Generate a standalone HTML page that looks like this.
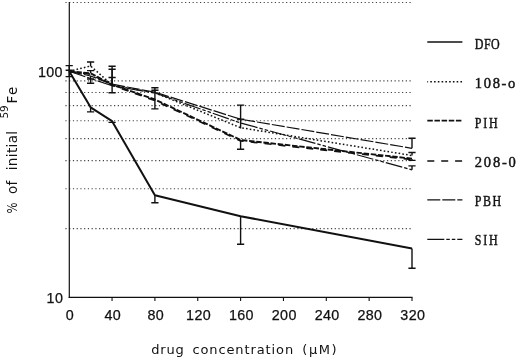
<!DOCTYPE html>
<html><head><meta charset="utf-8"><title>chart</title>
<style>
html,body{margin:0;padding:0;background:#fff;}
body{width:520px;height:358px;overflow:hidden;}
svg{display:block;}
.tick{font-family:"Liberation Sans",sans-serif;font-size:14.3px;letter-spacing:0.35px;fill:#111;stroke:#111;stroke-width:0.25px;}
.lab{font-family:"DejaVu Sans","Liberation Sans",sans-serif;font-size:13px;fill:#111;}
.leg{font-family:"Liberation Serif",serif;font-size:15px;fill:#111;stroke:#111;stroke-width:0.45px;}
</style></head><body>
<svg width="520" height="358" viewBox="0 0 520 358">
<rect width="520" height="358" fill="#fff"/>

<g stroke="#444" stroke-width="1.2" stroke-dasharray="1.2 2.54" fill="none">
<line x1="65.4" y1="2.50" x2="411.4" y2="2.50"/>
<line x1="65.4" y1="80.94" x2="411.4" y2="80.94"/>
<line x1="65.4" y1="92.50" x2="411.4" y2="92.50"/>
<line x1="65.4" y1="105.61" x2="411.4" y2="105.61"/>
<line x1="65.4" y1="120.74" x2="411.4" y2="120.74"/>
<line x1="65.4" y1="138.63" x2="411.4" y2="138.63"/>
<line x1="65.4" y1="160.53" x2="411.4" y2="160.53"/>
<line x1="65.4" y1="188.77" x2="411.4" y2="188.77"/>
<line x1="65.4" y1="228.57" x2="411.4" y2="228.57"/>
</g>
<g stroke="#111" stroke-width="1.2" fill="none">
<line x1="69.3" y1="2" x2="69.3" y2="297.9"/>
<line x1="68.7" y1="297.4" x2="412.55" y2="297.4" stroke-width="1.1"/>
<line x1="112.05" y1="297.4" x2="112.05" y2="301" stroke-width="1.1"/>
<line x1="154.90" y1="297.4" x2="154.90" y2="301" stroke-width="1.1"/>
<line x1="197.75" y1="297.4" x2="197.75" y2="301" stroke-width="1.1"/>
<line x1="240.60" y1="297.4" x2="240.60" y2="301" stroke-width="1.1"/>
<line x1="283.45" y1="297.4" x2="283.45" y2="301" stroke-width="1.1"/>
<line x1="326.30" y1="297.4" x2="326.30" y2="301" stroke-width="1.1"/>
<line x1="369.15" y1="297.4" x2="369.15" y2="301" stroke-width="1.1"/>
<line x1="412.00" y1="297.4" x2="412.00" y2="301" stroke-width="1.1"/>
</g>
<g class="tick" text-anchor="middle">
<text x="70.00" y="319.6">0</text>
<text x="112.85" y="319.6">40</text>
<text x="155.70" y="319.6">80</text>
<text x="198.55" y="319.6">120</text>
<text x="241.40" y="319.6">160</text>
<text x="284.25" y="319.6">200</text>
<text x="327.10" y="319.6">240</text>
<text x="369.95" y="319.6">280</text>
<text x="412.80" y="319.6">320</text>
</g>
<g class="tick" text-anchor="end"><text x="62.9" y="76.9">100</text><text x="63.2" y="302.6">10</text></g>
<g stroke="#111" fill="none" stroke-linejoin="round">
<polyline points="69.2,71.3 90.6,66.0 112.1,85.0 154.9,92.8 240.6,127.7 412.0,155.5" stroke-width="1.5" stroke-dasharray="1.6 2.17"/>
<polyline points="69.2,71.3 90.6,73.3 112.1,84.6 154.9,99.5 240.6,140.0 412.0,158.6" stroke-width="1.9" stroke-dasharray="5.5 1.7"/>
<polyline points="69.2,71.3 90.6,74.2 112.1,85.2 154.9,100.5 240.6,140.9 412.0,159.6" stroke-width="1.7" stroke-dasharray="7 7"/>
<polyline points="69.2,71.3 90.6,76.0 112.1,84.2 154.9,92.2 240.6,119.2 412.0,148.3" stroke-width="1.2" stroke-dasharray="13 2"/>
<polyline points="69.2,71.3 90.6,78.5 112.1,85.8 154.9,93.0 240.6,123.0 412.0,169.8" stroke-width="1.2" stroke-dasharray="17 2 3.5 2 3.5 2"/>
<polyline points="69.2,71.3 90.6,107.3 112.1,121.2 154.9,195.2 240.6,216.2 412.0,248.6" stroke-width="2"/>
</g>
<g stroke="#111" stroke-width="1.4" fill="none">
<path d="M69.2 71.3V65.6M65.6 65.6H72.8"/>
<path d="M69.2 71.3V76.6M65.6 76.6H72.8"/>
<path d="M69.2 71.3V70.2M65.6 70.2H72.8"/>
<path d="M90.6 66.5V62.0M87.0 62.0H94.2"/>
<path d="M90.6 73.0V70.6M87.0 70.6H94.2"/>
<path d="M90.6 76.0V79.0M87.0 79.0H94.2"/>
<path d="M90.6 78.5V83.2M87.0 83.2H94.2"/>
<path d="M90.6 107.3V111.9M87.0 111.9H94.2"/>
<path d="M112.1 84.0V66.2M108.5 66.2H115.7"/>
<path d="M112.1 84.0V69.3M108.5 69.3H115.7"/>
<path d="M112.1 84.0V77.5M108.5 77.5H115.7"/>
<path d="M112.1 85.0V92.7M108.5 92.7H115.7"/>
<path d="M112.1 121.2V122.4M108.5 122.4H115.7"/>
<path d="M154.9 93.0V87.8M151.3 87.8H158.5"/>
<path d="M154.9 93.0V90.3M151.3 90.3H158.5"/>
<path d="M154.9 93.0V108.9M151.3 108.9H158.5"/>
<path d="M154.9 195.2V202.7M151.3 202.7H158.5"/>
<path d="M240.6 128.5V105.1M237.0 105.1H244.2"/>
<path d="M240.6 119.2V119.2M237.0 119.2H244.2"/>
<path d="M240.6 140.0V149.2M237.0 149.2H244.2"/>
<path d="M240.6 216.2V244.2M237.0 244.2H244.2"/>
<path d="M412.0 148.2V138.2M408.4 138.2H415.6"/>
<path d="M412.0 155.5V152.5M408.4 152.5H415.6"/>
<path d="M412.0 159.0V160.4M408.4 160.4H415.6"/>
<path d="M412.0 169.8V165.9M408.4 165.9H415.6"/>
<path d="M412.0 248.6V268.3M408.4 268.3H415.6"/>
</g>
<g stroke="#111" fill="none">
<line x1="427.3" y1="42.0" x2="462.4" y2="42.0" stroke-width="1.5"/>
<line x1="427.3" y1="81.8" x2="462.4" y2="81.8" stroke-width="1.5" stroke-dasharray="1.6 2.17" stroke-dashoffset="0.8"/>
<line x1="427.3" y1="120.6" x2="462.4" y2="120.6" stroke-width="1.6" stroke-dasharray="5.5 1.65"/>
<line x1="427.3" y1="161.0" x2="462.4" y2="161.0" stroke-width="1.4" stroke-dasharray="7 6.9"/>
<line x1="427.3" y1="199.8" x2="462.4" y2="199.8" stroke-width="1.2" stroke-dasharray="13 2"/>
<line x1="427.3" y1="239.3" x2="462.4" y2="239.3" stroke-width="1.2" stroke-dasharray="17 2 3.5 2 3.5 2"/>
</g>
<g class="leg">
<text transform="translate(474.8,49.2) scale(0.8,1.03)" textLength="31.2" lengthAdjust="spacing">DFO</text>
<text transform="translate(474.8,88.4) scale(0.97,1.03)" textLength="41.8" lengthAdjust="spacing">108-o</text>
<text transform="translate(474.8,127.8) scale(0.8,1.03)" textLength="28.5" lengthAdjust="spacing">PIH</text>
<text transform="translate(474.8,166.5) scale(0.97,1.03)" textLength="42.3" lengthAdjust="spacing">208-0</text>
<text transform="translate(474.8,206.4) scale(0.8,1.03)" textLength="33.0" lengthAdjust="spacing">PBH</text>
<text transform="translate(474.8,245.4) scale(0.8,1.03)" textLength="28.5" lengthAdjust="spacing">SIH</text>
</g>
<text class="lab" x="151.3" y="353.8" textLength="32.5" lengthAdjust="spacing">drug</text>
<text class="lab" x="192.4" y="353.8" textLength="100.8" lengthAdjust="spacing">concentration</text>
<text class="lab" x="302.3" y="353.8" textLength="34.2" lengthAdjust="spacing">(μM)</text>
<g class="lab" style="font-size:13.5px" transform="translate(16.5,213.2) rotate(-90)">
<text x="-0.4" y="0" textLength="11" lengthAdjust="spacingAndGlyphs">%</text>
<text x="19.2" y="0" textLength="13.2" lengthAdjust="spacing">of</text>
<text x="42.9" y="0" textLength="39.4" lengthAdjust="spacing">initial</text>
<text x="94.6" y="-8.4" style="font-size:10.5px" textLength="13.4" lengthAdjust="spacing">59</text>
<text x="109.6" y="0" textLength="17" lengthAdjust="spacing">Fe</text>
</g>
</svg></body></html>
